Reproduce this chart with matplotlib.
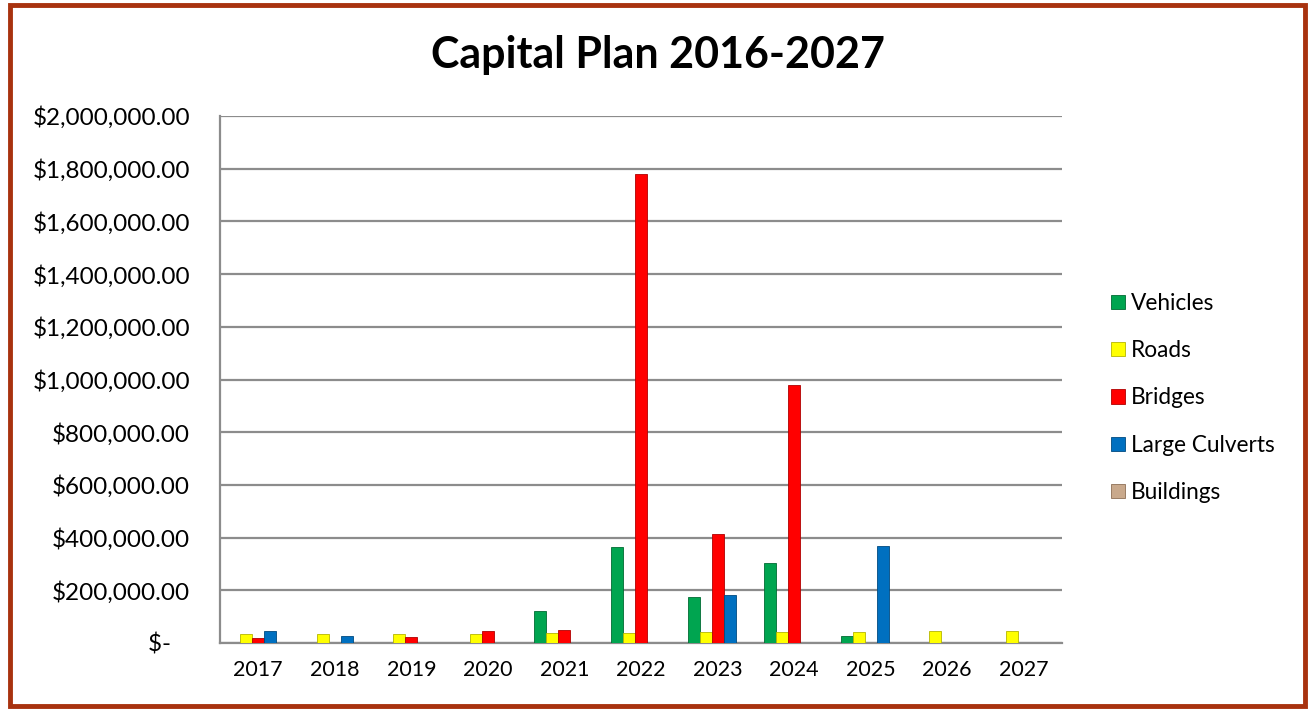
import numpy as np
import matplotlib
matplotlib.use('Agg')
import matplotlib.pyplot as plt
from matplotlib.patches import Rectangle
from matplotlib.ticker import FuncFormatter, MultipleLocator

plt.rcParams['font.family'] = ['Lato', 'DejaVu Sans']

years = ['2017', '2018', '2019', '2020', '2021', '2022', '2023', '2024', '2025', '2026', '2027']
vehicles = [0, 0, 0, 0, 121000, 364000, 176000, 304000, 25000, 0, 0]
roads = [34000, 34000, 34000, 36000, 39000, 39000, 43000, 43000, 42000, 44000, 45000]
bridges = [20000, 0, 22000, 44000, 49000, 1780000, 414000, 979000, 0, 0, 0]
culverts = [47000, 25000, 0, 0, 0, 0, 182000, 0, 368000, 0, 0]
buildings = [0, 0, 0, 0, 0, 0, 0, 0, 0, 0, 0]

series = [('Vehicles', vehicles, '#00A550', '#006B33'),
          ('Roads', roads, '#FFFF00', '#B5B500'),
          ('Bridges', bridges, '#FF0000', '#B00000'),
          ('Large Culverts', culverts, '#0070C0', '#004A80'),
          ('Buildings', buildings, '#C9A98C', '#8E6F55')]

W, H = 1308, 709
fig = plt.figure(figsize=(W / 100, H / 100), dpi=100)
ax = fig.add_axes([220 / W, 1 - 643 / H, (1062 - 220) / W, (643 - 116) / H])

x = np.arange(len(years))
bw = 0.157
for k, (name, vals, col, edge) in enumerate(series):
    ax.bar(x + (k - 2) * bw, vals, bw, color=col, edgecolor=edge, linewidth=0.6,
           label=name, zorder=3)

ax.set_xlim(-0.5, len(years) - 0.5)
ax.set_ylim(0, 2000000)
ax.yaxis.set_major_locator(MultipleLocator(200000))
ax.yaxis.set_major_formatter(FuncFormatter(
    lambda v, p: '$-   ' if v == 0 else f'${v:,.2f}'))
ax.set_xticks(x)
ax.set_xticklabels(years)
ax.tick_params(axis='both', length=0, colors='black')
ax.tick_params(axis='x', labelsize=15.5, pad=12)
ax.tick_params(axis='y', labelsize=17.5, pad=21.5)
ax.grid(axis='y', color='#8C8C8C', linewidth=1.6, zorder=0)
for s in ['top', 'right']:
    ax.spines[s].set_visible(False)
ax.spines['left'].set_color('#8C8C8C')
ax.spines['left'].set_linewidth(1.6)
ax.spines['bottom'].set_color('#8C8C8C')
ax.spines['bottom'].set_linewidth(1.6)

fig.text(658 / W, 1 - 55 / H, 'Capital Plan 2016-2027', ha='center', va='center',
         fontsize=31, fontweight='bold')

leg = fig.legend(loc='center left', bbox_to_anchor=(1091 / W, 1 - 398 / H),
                 frameon=False, fontsize=16.3, handlelength=0.6, handleheight=0.6,
                 handletextpad=0.25, labelspacing=1.16)

fig.patches.append(Rectangle((10 / W, 3 / H), 1295 / W, 701 / H, transform=fig.transFigure,
                             fill=False, edgecolor='#A8320F', linewidth=3.5))

plt.savefig('out.png', dpi=100)
